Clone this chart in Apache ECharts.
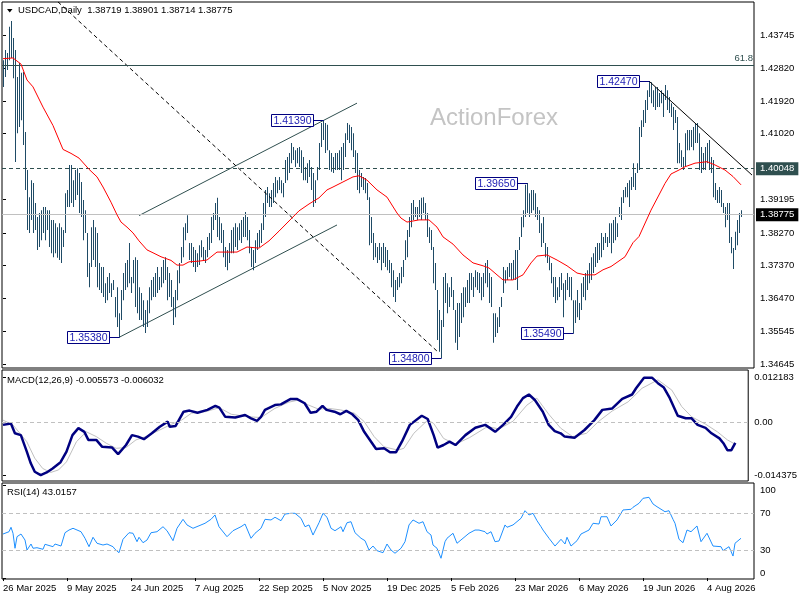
<!DOCTYPE html>
<html>
<head>
<meta charset="utf-8">
<script src="https://cdn.jsdelivr.net/npm/echarts@6/dist/echarts.min.js"></script>
<style>html,body{margin:0;padding:0;background:#fff}#c{width:800px;height:600px}</style>
</head>
<body>
<div id="c"></div>
<script>
// ---------- DATA ----------
const highs = [
1.4305,1.4333,1.4325,1.4397,1.4413,1.4366,1.4333,1.4258,1.4297,1.4270,
1.4272,1.4106,1.4001,1.3926,1.3973,1.3965,1.3910,1.3871,1.3882,1.3890,
1.3899,1.3899,1.3890,1.3890,1.3863,1.3863,1.3854,1.3843,1.3854,1.3843,
1.3835,1.3937,1.3946,1.4015,1.4015,1.3973,1.4001,1.4006,1.3993,1.3968,
1.3918,1.3890,1.3827,1.3744,1.3843,1.3863,1.3843,1.3827,1.3744,1.3733,
1.3733,1.3688,1.3705,1.3716,1.3688,1.3697,1.3650,1.3677,1.3605,1.3669,
1.3716,1.3744,1.3752,1.3799,1.3705,1.3752,1.3760,1.3752,1.3677,1.3661,
1.3641,1.3614,1.3641,1.3677,1.3697,1.3705,1.3716,1.3733,1.3705,1.3733,
1.3752,1.3760,1.3733,1.3716,1.3697,1.3650,1.3669,1.3724,1.3744,1.3788,
1.3843,1.3854,1.3876,1.3799,1.3799,1.3788,1.3780,1.3771,1.3793,1.3807,
1.3788,1.3780,1.3816,1.3827,1.3871,1.3882,1.3910,1.3924,1.3871,1.3854,
1.3835,1.3788,1.3780,1.3799,1.3835,1.3843,1.3854,1.3843,1.3854,1.3863,
1.3871,1.3885,1.3871,1.3835,1.3788,1.3780,1.3807,1.3827,1.3835,1.3854,
1.3910,1.3946,1.3954,1.3937,1.3946,1.3965,1.3982,1.3973,1.3982,1.3973,
1.3965,1.4029,1.4037,1.4048,1.4076,1.4065,1.4056,1.4062,1.4065,1.4056,
1.4037,1.4009,1.4020,1.4029,1.4009,1.3993,1.3973,1.4009,1.4076,1.4131,
1.4139,1.4131,1.4126,1.4056,1.4048,1.4037,1.4048,1.4048,1.4056,1.4065,
1.4076,1.4103,1.4131,1.4126,1.4120,1.4103,1.4056,1.4048,1.4001,1.3993,
1.3982,1.3979,1.3965,1.3926,1.3871,1.3827,1.3799,1.3788,1.3799,1.3788,
1.3799,1.3788,1.3780,1.3752,1.3744,1.3724,1.3697,1.3705,1.3716,1.3733,
1.3752,1.3807,1.3835,1.3871,1.3910,1.3918,1.3899,1.3899,1.3918,1.3924,
1.3926,1.3910,1.3882,1.3843,1.3835,1.3788,1.3744,1.3669,1.3614,1.3586,
1.3705,1.3716,1.3688,1.3677,1.3705,1.3669,1.3614,1.3633,1.3633,1.3661,
1.3677,1.3677,1.3697,1.3716,1.3716,1.3705,1.3724,1.3719,1.3716,1.3705,
1.3716,1.3744,1.3752,1.3716,1.3705,1.3605,1.3605,1.3594,1.3622,1.3650,
1.3733,1.3724,1.3733,1.3744,1.3744,1.3752,1.3780,1.3780,1.3816,1.3871,
1.3890,1.3960,1.3965,1.3937,1.3946,1.3946,1.3937,1.3899,1.3890,1.3854,
1.3871,1.3799,1.3788,1.3760,1.3744,1.3705,1.3705,1.3677,1.3705,1.3716,
1.3688,1.3697,1.3716,1.3705,1.3705,1.3641,1.3641,1.3669,1.3633,1.3688,
1.3705,1.3716,1.3724,1.3744,1.3760,1.3771,1.3788,1.3799,1.3799,1.3827,
1.3816,1.3827,1.3816,1.3854,1.3854,1.3863,1.3871,1.3854,1.3899,1.3926,
1.3946,1.3954,1.3965,1.3973,1.3982,1.4020,1.3993,1.4020,1.4120,1.4139,
1.4167,1.4195,1.4222,1.4247,1.4244,1.4222,1.4231,1.4231,1.4214,1.4222,
1.4214,1.4236,1.4222,1.4203,1.4186,1.4175,1.4167,1.4148,1.4076,1.4056,
1.4037,1.4103,1.4112,1.4112,1.4112,1.4120,1.4131,1.4131,1.4103,1.4065,
1.4048,1.4065,1.4076,1.4084,1.4037,1.4029,1.3965,1.3946,1.3954,1.3946,
1.3910,1.3899,1.3910,1.3910,1.3816,1.3785,1.3830,1.3863,1.3882,1.3890
];
const lows = [
1.4231,1.4258,1.4278,1.4305,1.4311,1.4255,1.4023,1.4103,1.4120,1.4139,
1.4070,1.3946,1.3835,1.3827,1.3863,1.3827,1.3835,1.3780,1.3788,1.3807,
1.3827,1.3807,1.3835,1.3788,1.3771,1.3760,1.3771,1.3758,1.3752,1.3744,
1.3788,1.3827,1.3899,1.3899,1.3910,1.3899,1.3918,1.3932,1.3882,1.3871,
1.3807,1.3827,1.3705,1.3677,1.3733,1.3752,1.3733,1.3677,1.3669,1.3661,
1.3650,1.3633,1.3641,1.3661,1.3650,1.3669,1.3594,1.3567,1.3538,1.3586,
1.3641,1.3669,1.3677,1.3688,1.3661,1.3688,1.3622,1.3605,1.3586,1.3586,
1.3567,1.3550,1.3567,1.3605,1.3641,1.3650,1.3650,1.3661,1.3669,1.3677,
1.3688,1.3697,1.3641,1.3650,1.3622,1.3572,1.3594,1.3641,1.3688,1.3744,
1.3760,1.3807,1.3827,1.3752,1.3744,1.3733,1.3719,1.3733,1.3738,1.3760,
1.3752,1.3744,1.3760,1.3780,1.3799,1.3835,1.3863,1.3816,1.3807,1.3799,
1.3760,1.3733,1.3724,1.3744,1.3771,1.3771,1.3788,1.3780,1.3807,1.3799,
1.3816,1.3816,1.3807,1.3771,1.3733,1.3724,1.3744,1.3780,1.3788,1.3799,
1.3835,1.3871,1.3910,1.3899,1.3899,1.3910,1.3926,1.3937,1.3946,1.3937,
1.3926,1.3965,1.3973,1.3993,1.4020,1.4029,1.4009,1.4020,1.4009,1.3993,
1.3973,1.3973,1.3965,1.3982,1.3946,1.3899,1.3910,1.3973,1.4001,1.4065,
1.4084,1.4048,1.4056,1.4001,1.3996,1.3993,1.4001,1.4001,1.4001,1.3973,
1.4001,1.4037,1.4084,1.4076,1.4056,1.4037,1.3993,1.3946,1.3937,1.3954,
1.3946,1.3937,1.3918,1.3793,1.3799,1.3752,1.3760,1.3744,1.3752,1.3724,
1.3744,1.3733,1.3724,1.3716,1.3677,1.3650,1.3636,1.3669,1.3677,1.3688,
1.3705,1.3752,1.3760,1.3816,1.3843,1.3863,1.3871,1.3863,1.3871,1.3863,
1.3882,1.3863,1.3816,1.3799,1.3780,1.3688,1.3669,1.3531,1.3498,1.3480,
1.3567,1.3633,1.3605,1.3622,1.3650,1.3614,1.3523,1.3503,1.3539,1.3578,
1.3594,1.3622,1.3633,1.3633,1.3669,1.3650,1.3677,1.3669,1.3661,1.3641,
1.3650,1.3688,1.3677,1.3633,1.3622,1.3523,1.3539,1.3550,1.3567,1.3622,
1.3661,1.3688,1.3697,1.3705,1.3697,1.3697,1.3697,1.3669,1.3780,1.3816,
1.3843,1.3871,1.3882,1.3871,1.3882,1.3890,1.3871,1.3863,1.3827,1.3788,
1.3799,1.3760,1.3744,1.3724,1.3688,1.3650,1.3633,1.3641,1.3650,1.3669,
1.3594,1.3641,1.3669,1.3650,1.3641,1.3549,1.3578,1.3594,1.3586,1.3614,
1.3650,1.3641,1.3669,1.3688,1.3697,1.3716,1.3733,1.3744,1.3752,1.3760,
1.3780,1.3799,1.3788,1.3799,1.3771,1.3799,1.3807,1.3816,1.3871,1.3863,
1.3910,1.3926,1.3926,1.3899,1.3946,1.3954,1.3946,1.3993,1.4001,1.4092,
1.4120,1.4131,1.4167,1.4203,1.4186,1.4175,1.4167,1.4175,1.4175,1.4186,
1.4148,1.4195,1.4167,1.4159,1.4148,1.4112,1.4131,1.4020,1.4020,1.4009,
1.4001,1.4009,1.4056,1.4056,1.4065,1.4056,1.4076,1.4076,1.4001,1.3993,
1.4001,1.4001,1.4020,1.4001,1.3993,1.3926,1.3918,1.3910,1.3910,1.3899,
1.3882,1.3843,1.3863,1.3799,1.3771,1.3727,1.3780,1.3793,1.3827,1.3871
];
const maPoints = [[0,1.4309],[5,1.4311],[9,1.4294],[12,1.4250],[15,1.4231],[20,1.4175],[25,1.4124],[30,1.4058],[34,1.4047],[38,1.4034],[43,1.4003],[47,1.3982],[50,1.3954],[54,1.3912],[57,1.3877],[59,1.3857],[62,1.3843],[65,1.3827],[68,1.3805],[72,1.3780],[75,1.3772],[79,1.3761],[84,1.3751],[87,1.3738],[90,1.3738],[93,1.3747],[98,1.3749],[102,1.3752],[107,1.3774],[112,1.3774],[117,1.3774],[122,1.3788],[128,1.3785],[133,1.3805],[138,1.3832],[143,1.3860],[148,1.3888],[153,1.3907],[158,1.3924],[162,1.3946],[165,1.3954],[170,1.3968],[175,1.3982],[178,1.3985],[182,1.3973],[187,1.3946],[192,1.3926],[197,1.3882],[199,1.3868],[202,1.3857],[205,1.3860],[208,1.3863],[213,1.3863],[217,1.3843],[220,1.3816],[225,1.3796],[230,1.3766],[235,1.3744],[240,1.3736],[243,1.3730],[247,1.3711],[250,1.3697],[255,1.3697],[260,1.3711],[264,1.3744],[267,1.3763],[272,1.3766],[277,1.3752],[282,1.3736],[287,1.3716],[291,1.3711],[296,1.3711],[300,1.3725],[304,1.3734],[311,1.3761],[315,1.3800],[318,1.3817],[324,1.3890],[331,1.3964],[334,1.3990],[338,1.4001],[341,1.4010],[346,1.4020],[352,1.4024],[356,1.4015],[361,1.4001],[365,1.3983],[369,1.3960]];
const macdPoints = [[0,-0.0007],[4,-0.0003],[6,-0.0030],[9,-0.0035],[12,-0.0080],[14,-0.0112],[16,-0.0135],[19,-0.0144],[22,-0.0137],[25,-0.0126],[29,-0.0109],[32,-0.0080],[35,-0.0035],[38,-0.0016],[41,-0.0026],[43,-0.0048],[47,-0.0048],[50,-0.0067],[55,-0.0069],[58,-0.0087],[62,-0.0062],[65,-0.0035],[68,-0.0039],[71,-0.0046],[75,-0.0030],[79,-0.0012],[83,0.0002],[84,-0.0012],[87,-0.0010],[91,0.0029],[94,0.0032],[98,0.0026],[103,0.0034],[107,0.0045],[109,0.0040],[112,0.0015],[117,0.0013],[122,0.0020],[125,0.0011],[128,0.0004],[130,0.0015],[132,0.0034],[137,0.0047],[140,0.0049],[145,0.0064],[148,0.0064],[152,0.0052],[155,0.0026],[158,0.0029],[161,0.0045],[163,0.0034],[167,0.0029],[170,0.0022],[173,0.0031],[176,0.0022],[179,0.0006],[182,-0.0026],[186,-0.0057],[188,-0.0073],[192,-0.0071],[195,-0.0082],[198,-0.0082],[201,-0.0053],[205,-0.0007],[211,0.0018],[214,0.0009],[217,-0.0035],[219,-0.0069],[222,-0.0062],[225,-0.0053],[228,-0.0062],[233,-0.0035],[238,-0.0015],[243,-0.0007],[246,-0.0018],[248,-0.0026],[252,-0.0007],[256,0.0015],[259,0.0043],[262,0.0066],[265,0.0076],[268,0.0061],[272,0.0029],[275,-0.0007],[278,-0.0024],[281,-0.0030],[283,-0.0039],[288,-0.0042],[293,-0.0021],[298,0.0006],[302,0.0034],[307,0.0038],[312,0.0064],[317,0.0076],[319,0.0093],[323,0.0122],[327,0.0122],[330,0.0107],[333,0.0095],[336,0.0066],[340,0.0018],[344,0.0011],[347,0.0011],[350,-0.0007],[354,-0.0015],[357,-0.0030],[361,-0.0044],[363,-0.0057],[365,-0.0076],[367,-0.0076],[369,-0.0056]];
const signalPoints = [[0,0.0006],[5,-0.0007],[12,-0.0053],[16,-0.0098],[20,-0.0126],[24,-0.0137],[28,-0.0130],[32,-0.0108],[37,-0.0053],[42,-0.0026],[47,-0.0039],[52,-0.0057],[57,-0.0071],[62,-0.0069],[67,-0.0048],[72,-0.0039],[79,-0.0021],[85,-0.0005],[90,0.0006],[95,0.0025],[102,0.0029],[109,0.0040],[115,0.0022],[124,0.0015],[130,0.0013],[137,0.0038],[144,0.0055],[149,0.0061],[154,0.0047],[159,0.0036],[164,0.0038],[170,0.0034],[177,0.0025],[182,0.0002],[187,-0.0039],[192,-0.0067],[199,-0.0076],[202,-0.0071],[207,-0.0030],[214,0.0006],[217,-0.0003],[222,-0.0044],[228,-0.0060],[235,-0.0042],[244,-0.0012],[250,-0.0018],[257,0.0003],[264,0.0047],[269,0.0066],[275,0.0022],[281,-0.0016],[287,-0.0039],[294,-0.0030],[300,0.0002],[307,0.0031],[315,0.0056],[322,0.0093],[330,0.0116],[337,0.0088],[342,0.0043],[347,0.0015],[354,-0.0005],[360,-0.0026],[365,-0.0048],[369,-0.0060]];
const rsiPoints = [[0,47.6],[3,50.1],[4,54.9],[5,48.4],[6,32.2],[7,44.7],[9,47.6],[11,41.1],[12,30.3],[14,36.8],[15,32.2],[17,32.8],[20,31.1],[21,36.5],[25,33.9],[26,36.8],[29,34.6],[31,49.0],[33,51.9],[35,53.8],[39,50.1],[41,43.0],[43,33.9],[45,44.1],[47,37.6],[50,35.7],[52,36.8],[55,33.9],[56,31.1],[58,27.4],[60,41.9],[63,49.0],[65,48.4],[67,39.3],[68,44.1],[70,38.2],[72,41.1],[74,49.0],[77,50.1],[80,55.5],[82,51.2],[85,40.4],[87,53.8],[90,63.5],[92,57.4],[95,53.8],[99,57.4],[101,59.2],[104,63.5],[106,68.2],[108,55.5],[112,44.7],[115,51.2],[119,55.5],[121,58.4],[124,43.0],[126,48.4],[129,53.8],[131,63.5],[134,62.8],[136,65.7],[139,62.0],[141,69.2],[144,70.0],[146,70.0],[149,64.6],[151,55.5],[153,57.4],[155,46.5],[158,59.8],[160,70.0],[162,65.7],[164,53.8],[166,51.2],[169,55.5],[170,50.1],[172,59.8],[174,60.9],[176,49.0],[179,43.0],[181,40.4],[183,30.3],[185,34.6],[187,29.6],[190,27.4],[192,36.8],[194,30.3],[196,26.8],[199,32.2],[201,39.3],[203,57.4],[205,62.8],[208,59.2],[210,60.9],[212,50.1],[214,46.5],[215,35.7],[217,32.2],[219,21.4],[221,39.3],[222,43.0],[225,48.4],[227,37.6],[230,43.0],[233,48.4],[236,51.9],[238,51.9],[241,50.1],[242,47.6],[244,50.1],[246,39.3],[248,40.1],[251,57.4],[252,54.9],[255,57.4],[256,56.3],[259,64.6],[261,72.8],[263,68.2],[265,70.0],[267,62.0],[269,55.5],[270,51.9],[273,43.0],[276,34.6],[279,41.9],[281,36.8],[282,44.1],[284,34.6],[287,40.4],[289,47.6],[293,51.9],[295,59.2],[298,58.4],[299,66.3],[302,66.3],[303,68.2],[304,56.3],[307,62.8],[310,73.6],[314,74.3],[315,76.5],[318,80.8],[320,86.2],[323,87.3],[325,80.1],[327,77.1],[331,71.7],[333,72.8],[335,63.5],[336,59.2],[338,41.9],[340,38.2],[342,51.9],[344,50.1],[347,56.3],[349,39.3],[352,48.4],[355,34.6],[359,33.9],[360,29.6],[363,33.9],[365,23.8],[366,37.6],[367,39.3],[369,43.0]];

const priceTicks = [1.43745,1.42820,1.41920,1.41020,1.39195,1.38270,1.37370,1.36470,1.35545,1.34645];
const macdTicks = [-0.014375, 0, 0.012183];
const macdTickLabels = ['-0.014375', '0.00', '0.012183'];
const rsiTicks = [0, 30, 70, 100];
const dateTickIndex = [0,32,64,96,128,160,192,224,256,288,320,352];
const dateTickLabels = ['26 Mar 2025','9 May 2025','24 Jun 2025','7 Aug 2025','22 Sep 2025','5 Nov 2025','19 Dec 2025','5 Feb 2026','23 Mar 2026','6 May 2026','19 Jun 2026','4 Aug 2026'];

const channelUpper = [[68,1.3875],[177,1.4186]];
const channelLower = [[58,1.3538],[167,1.3849]];
const dashedDiagonal = [[27.5,1.4466],[218,1.3495]];
const downTrend = [[323,1.4247],[374.5,1.3987]];
const fiboLevel = 1.42915;
const keyLevel = 1.40048;
const lastClose = 1.38775;

const pivotIdx = [58, 160, 219, 262, 285, 323];
const pivotPrice = [1.3538, 1.4139, 1.3480, 1.3965, 1.3549, 1.4247];
const pivotText = ['1.35380','1.41390','1.34800','1.39650','1.35490','1.42470'];

// ---------- CHART ----------
const FONT = 'Liberation Sans';
const FS = 9.5;
const BAR = '#1f4b66';
const chart = echarts.init(document.getElementById('c'), null, {renderer: 'canvas', width: 800, height: 600});

const barData = highs.map((h, i) => [i, lows[i], h]);
const pivotData = pivotIdx.map((x, k) => [x, pivotPrice[k]]);

function renderBar(params, api) {
  const x = api.value(0);
  const top = api.coord([x, api.value(2)]);
  const bot = api.coord([x, api.value(1)]);
  return {
    type: 'rect',
    shape: {x: Math.floor(top[0]), y: top[1], width: 1, height: Math.max(1, bot[1] - top[1])},
    style: {fill: BAR}
  };
}
function renderPivot(params, api) {
  const p = api.coord([api.value(0), api.value(1)]);
  const bx = Math.floor(p[0]) + 0.5;
  const by = Math.round(p[1]) + 0.5;
  const right = bx - 10;
  const left = right - 42;
  return {
    type: 'group',
    children: [
      {type: 'line', shape: {x1: right, y1: by, x2: bx, y2: by}, style: {stroke: '#000080', lineWidth: 1}},
      {type: 'rect', shape: {x: left, y: by - 6, width: 42, height: 12}, style: {fill: '#fff', stroke: '#000080', lineWidth: 1}},
      {type: 'text', style: {text: pivotText[params.dataIndex], x: left + 21, y: by + 0.5, align: 'center', verticalAlign: 'middle', fontSize: 10.5, fontFamily: FONT, fill: '#1c1cb4'}}
    ]
  };
}

const axisText = {fontFamily: FONT, fontSize: FS, color: '#000'};

const option = {
  animation: false,
  backgroundColor: '#fff',
  grid: [
    {left: 2, top: 2, width: 752, height: 366, show: true, borderColor: '#000', borderWidth: 1},
    {left: 2, top: 370, width: 752, height: 111, show: true, borderColor: '#000', borderWidth: 1},
    {left: 2, top: 483, width: 752, height: 96, show: true, borderColor: '#000', borderWidth: 1}
  ],
  xAxis: [0, 1, 2].map(g => ({
    type: 'value', gridIndex: g, min: -0.5, max: 375.5,
    axisLine: {show: false}, splitLine: {show: false},
    axisTick: g === 2 ? {show: true, customValues: dateTickIndex, length: 3, lineStyle: {color: '#000'}} : {show: false},
    axisLabel: g === 2 ? Object.assign({show: true, customValues: dateTickIndex, align: 'left', margin: 4,
      formatter: v => { const k = dateTickIndex.indexOf(Math.round(v)); return k >= 0 ? dateTickLabels[k] : ''; }}, axisText) : {show: false}
  })),
  yAxis: [
    {type: 'value', gridIndex: 0, position: 'right', min: 1.34533, max: 1.44658,
      axisLine: {show: false}, splitLine: {show: false},
      axisTick: {show: true, customValues: priceTicks, length: 3, lineStyle: {color: '#000'}},
      axisLabel: Object.assign({customValues: priceTicks, margin: 6, formatter: v => v.toFixed(5)}, axisText)},
    {type: 'value', gridIndex: 1, position: 'right', min: -0.01603, max: 0.01429,
      axisLine: {show: false}, splitLine: {show: false},
      axisTick: {show: true, customValues: macdTicks, length: 3, lineStyle: {color: '#000'}},
      axisLabel: Object.assign({customValues: macdTicks, margin: 6,
        formatter: v => { let k = 0, d = 1; macdTicks.forEach((t, j) => { if (Math.abs(t - v) < d) { d = Math.abs(t - v); k = j; } }); return macdTickLabels[k]; }}, axisText)},
    {type: 'value', gridIndex: 2, position: 'right', min: -1.03, max: 102.76,
      axisLine: {show: false}, splitLine: {show: false},
      axisTick: {show: true, customValues: rsiTicks, length: 3, lineStyle: {color: '#000'}},
      axisLabel: Object.assign({customValues: rsiTicks, margin: 6, verticalAlignMinLabel: 'bottom', verticalAlignMaxLabel: 'top',
        formatter: v => String(Math.round(v))}, axisText)}
  ],
  series: [
    {type: 'line', xAxisIndex: 0, yAxisIndex: 0, data: channelUpper, symbol: 'none', silent: true, z: 2,
      lineStyle: {color: '#2f4f4f', width: 1},
      markLine: {symbol: ['none', 'none'], silent: true, animation: false, precision: 5,
        data: [
          {yAxis: fiboLevel, lineStyle: {color: '#2f4f4f', type: 'solid', width: 1},
            label: {show: true, position: 'insideEndTop', formatter: '61.8', color: '#2f4f4f', fontFamily: FONT, fontSize: FS, distance: [1, 2]}},
          {yAxis: keyLevel, lineStyle: {color: '#2f4f4f', type: [4, 3], width: 1},
            label: {show: true, position: 'end', formatter: '1.40048', color: '#fff', backgroundColor: '#2f4f4f', padding: [2, 4, 1, 4], fontFamily: FONT, fontSize: FS, distance: 2}},
          {yAxis: lastClose, lineStyle: {color: '#c0c0c0', type: 'solid', width: 1},
            label: {show: true, position: 'end', formatter: '1.38775', color: '#fff', backgroundColor: '#000', padding: [2, 4, 1, 4], fontFamily: FONT, fontSize: FS, distance: 2}}
        ]}},
    {type: 'line', xAxisIndex: 0, yAxisIndex: 0, data: channelLower, symbol: 'none', silent: true, z: 2,
      lineStyle: {color: '#2f4f4f', width: 1}},
    {type: 'custom', xAxisIndex: 0, yAxisIndex: 0, data: barData, renderItem: renderBar, encode: {x: 0, y: [1, 2]}, silent: true, z: 3},
    {type: 'line', xAxisIndex: 0, yAxisIndex: 0, data: dashedDiagonal, symbol: 'none', silent: true, z: 4,
      lineStyle: {color: '#000', width: 1, type: [4, 3]}},
    {type: 'line', xAxisIndex: 0, yAxisIndex: 0, data: downTrend, symbol: 'none', silent: true, z: 4,
      lineStyle: {color: '#000', width: 1}},
    {type: 'line', xAxisIndex: 0, yAxisIndex: 0, data: maPoints, symbol: 'none', silent: true, z: 5,
      lineStyle: {color: '#ff0000', width: 1}},
    {type: 'custom', xAxisIndex: 0, yAxisIndex: 0, data: pivotData, renderItem: renderPivot, encode: {x: 0, y: 1}, silent: true, z: 6},
    {type: 'line', xAxisIndex: 1, yAxisIndex: 1, data: signalPoints, symbol: 'none', silent: true, z: 3,
      lineStyle: {color: '#c0c0c0', width: 1},
      markLine: {symbol: ['none', 'none'], silent: true, animation: false,
        data: [{yAxis: 0, lineStyle: {color: '#c0c0c0', type: [4, 3], width: 1}, label: {show: false}}]}},
    {type: 'line', xAxisIndex: 1, yAxisIndex: 1, data: macdPoints, symbol: 'none', silent: true, z: 4,
      lineStyle: {color: '#000080', width: 2.5}},
    {type: 'line', xAxisIndex: 2, yAxisIndex: 2, data: rsiPoints, symbol: 'none', silent: true, z: 4,
      lineStyle: {color: '#1e90ff', width: 1},
      markLine: {symbol: ['none', 'none'], silent: true, animation: false,
        data: [
          {yAxis: 70, lineStyle: {color: '#c0c0c0', type: [4, 3], width: 1}, label: {show: false}},
          {yAxis: 30, lineStyle: {color: '#c0c0c0', type: [4, 3], width: 1}, label: {show: false}}
        ]}}
  ],
  graphic: [
    {type: 'polygon', shape: {points: [[7, 9], [12.5, 9], [9.75, 12.5]]}, style: {fill: '#000'}, z: 10},
    {type: 'text', x: 18, y: 10.5, z: 10, style: {text: 'USDCAD,Daily  1.38719 1.38901 1.38714 1.38775', fontFamily: FONT, fontSize: FS, fill: '#000', verticalAlign: 'middle'}},
    {type: 'text', x: 430, y: 118, z: 1, style: {text: 'ActionForex', fontFamily: FONT, fontSize: 24, fill: '#c4c4c4', verticalAlign: 'middle'}},
    {type: 'text', x: 7, y: 380, z: 10, style: {text: 'MACD(12,26,9) -0.005573 -0.006032', fontFamily: FONT, fontSize: FS, fill: '#000', verticalAlign: 'middle'}},
    {type: 'text', x: 7, y: 492.5, z: 10, style: {text: 'RSI(14) 43.0157', fontFamily: FONT, fontSize: FS, fill: '#000', verticalAlign: 'middle'}}
  ]
};
chart.setOption(option);
</script>
</body>
</html>
